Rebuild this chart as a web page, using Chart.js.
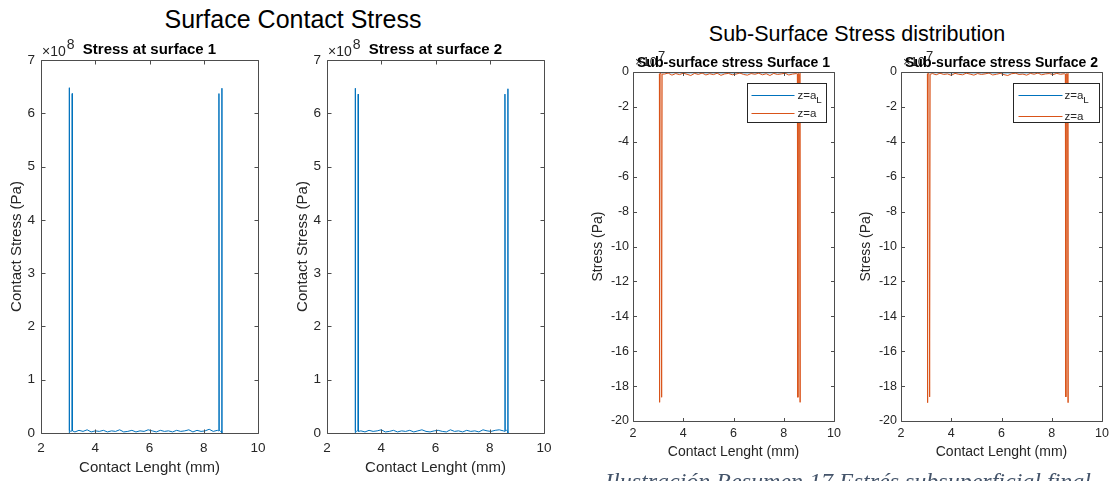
<!DOCTYPE html>
<html>
<head>
<meta charset="utf-8">
<script src="https://cdn.jsdelivr.net/npm/chart.js@4.4.0/dist/chart.umd.min.js"></script>
<style>
  body { margin: 0; width: 1115px; height: 481px; overflow: hidden; background: #fff; position: relative; font-family: 'Liberation Sans', Arial, sans-serif; }
  canvas { position: absolute; top: 0; }
  .t { position: absolute; line-height: 1; white-space: nowrap; color: #000; transform: translateX(-50%); }
  #caption { position: absolute; left: 605px; top: 469px; line-height: 1; white-space: nowrap; font-family: 'Liberation Serif', 'DejaVu Serif', serif; font-style: italic; font-size: 24px; color: #44546A; }
</style>
</head>
<body>
<div class="t" style="left:293px; top:7px; font-size:25px;">Surface Contact Stress</div>
<div class="t" style="left:857px; top:24px; font-size:21.5px;">Sub-Surface Stress distribution</div>
<canvas id="c1" width="290" height="481" style="left:0px"></canvas>
<canvas id="c2" width="288" height="481" style="left:286px"></canvas>
<canvas id="c3" width="265" height="470" style="left:581px"></canvas>
<canvas id="c4" width="266" height="470" style="left:849px"></canvas>
<div id="caption">Ilustración Resumen 17 Estrés subsuperficial final</div>
<script>
// contact length (mm) for the surface stress curves
const contactLength = [3.04, 3.04, 3.05, 3.10, 3.14, 3.15, 3.16,
  3.25, 3.40, 3.55, 3.70, 3.85, 4.00, 4.15, 4.30, 4.45, 4.60, 4.75, 4.90,
  5.05, 5.20, 5.35, 5.50, 5.65, 5.80, 5.95, 6.10, 6.25, 6.40, 6.55, 6.70,
  6.85, 7.00, 7.15, 7.30, 7.45, 7.60, 7.75, 7.90, 8.05, 8.20, 8.35, 8.50,
  8.55, 8.56, 8.57, 8.62, 8.66, 8.67, 8.67]

// contact stress (Pa)
const stressSurface1 = [0, 6.48e8, 5e6, 3e6, 4e6, 6.37e8, 4e6,
  2e6, 5e6, 3e6, 6e6, 2e6, 4e6, 3e6, 5e6, 2e6, 4e6, 3e6, 6e6,
  2e6, 3e6, 5e6, 2e6, 4e6, 3e6, 6e6, 4e6, 2e6, 5e6, 3e6, 4e6,
  2e6, 5e6, 3e6, 4e6, 6e6, 2e6, 5e6, 3e6, 4e6, 7e6, 3e6, 5e6,
  4e6, 6.37e8, 5e6, 3e6, 4e6, 6.47e8, 0]

const stressSurface2 = [0, 6.47e8, 4e6, 3e6, 5e6, 6.36e8, 3e6,
  4e6, 2e6, 5e6, 3e6, 4e6, 6e6, 2e6, 3e6, 5e6, 2e6, 4e6, 3e6,
  5e6, 2e6, 4e6, 6e6, 3e6, 2e6, 4e6, 5e6, 3e6, 2e6, 6e6, 3e6,
  4e6, 2e6, 5e6, 3e6, 4e6, 2e6, 6e6, 4e6, 3e6, 5e6, 6e6, 4e6,
  3e6, 6.36e8, 4e6, 5e6, 3e6, 6.46e8, 0]

// contact length (mm) for the sub-surface curves
const subLength = [3.05, 3.05, 3.07, 3.11, 3.14, 3.16,
  3.25, 3.40, 3.55, 3.70, 3.85, 4.00, 4.15, 4.30, 4.45, 4.60, 4.75, 4.90,
  5.05, 5.20, 5.35, 5.50, 5.65, 5.80, 5.95, 6.10, 6.25, 6.40, 6.55, 6.70,
  6.85, 7.00, 7.15, 7.30, 7.45, 7.60, 7.75, 7.90, 8.05, 8.20, 8.35, 8.50,
  8.54, 8.56, 8.58, 8.63, 8.65, 8.65]

// sub-surface stress at z=a (Pa)
const stressZa1 = [-1e6, -18.93e7, -1.0e6, -0.8e6, -18.64e7, -1.2e6,
  -1.2e6, -0.6e6, -1.8e6, -0.9e6, -1.5e6, -0.7e6, -1.3e6, -2.0e6, -0.8e6, -1.4e6, -0.6e6, -1.7e6,
  -1.0e6, -1.5e6, -0.7e6, -1.9e6, -1.1e6, -0.8e6, -1.6e6, -1.2e6, -0.6e6, -1.4e6, -1.8e6, -0.9e6,
  -1.3e6, -0.7e6, -1.6e6, -1.0e6, -2.0e6, -0.8e6, -1.4e6, -1.1e6, -0.7e6, -1.7e6, -1.2e6, -0.9e6,
  -1.1e6, -18.64e7, -0.9e6, -1.3e6, -18.93e7, -0.5e6]

const stressZa2 = [-1e6, -18.95e7, -1.1e6, -0.9e6, -18.62e7, -1.3e6,
  -0.9e6, -1.6e6, -0.7e6, -1.4e6, -1.1e6, -1.9e6, -0.8e6, -1.3e6, -1.6e6, -0.7e6, -1.2e6, -1.8e6,
  -0.9e6, -1.4e6, -1.1e6, -0.6e6, -1.7e6, -1.3e6, -0.8e6, -1.5e6, -2.0e6, -1.0e6, -0.7e6, -1.4e6,
  -1.2e6, -1.8e6, -0.8e6, -1.3e6, -0.6e6, -1.6e6, -1.1e6, -0.9e6, -1.5e6, -0.8e6, -1.3e6, -1.0e6,
  -1.2e6, -18.62e7, -1.0e6, -1.2e6, -18.95e7, -0.5e6]

// sub-surface stress at z=a_L (Pa), hidden under the z=a curve
const zaLLength = [3.05, 5.85, 8.65]
const stressZaL1 = [-0.4e6, -0.5e6, -0.4e6]
const stressZaL2 = [-0.4e6, -0.5e6, -0.4e6]

const xTicks = [2, 4, 6, 8, 10]
const surfaceTicks = [0, 1e8, 2e8, 3e8, 4e8, 5e8, 6e8, 7e8]
const subTicks = [-20e7, -18e7, -16e7, -14e7, -12e7, -10e7, -8e7, -6e7, -4e7, -2e7, 0]
const seriesLabels = ['z=a_L', 'z=a']

const blue = '#0072BD', orange = '#D95319', ink = '#262626'
const fam = "'Liberation Sans', Arial, Helvetica, sans-serif"
Chart.defaults.font.family = fam
Chart.defaults.color = ink

// MATLAB style box, inward ticks, exponent, title and legend
const matlabAxes = {
  id: 'matlabAxes',
  afterDraw(chart, args, o) {
    const { ctx, chartArea: a, scales: { x, y } } = chart
    const L = Math.round(a.left) + 0.5, R = Math.round(a.right) + 0.5
    const T = Math.round(a.top) + 0.5, B = Math.round(a.bottom) + 0.5
    ctx.save()
    ctx.strokeStyle = '#4d4d4d'
    ctx.lineWidth = 1
    ctx.beginPath()
    ctx.rect(L, T, R - L, B - T)
    x.ticks.forEach(t => {
      const p = Math.round(x.getPixelForValue(t.value)) + 0.5
      ctx.moveTo(p, B); ctx.lineTo(p, B - o.tick)
      ctx.moveTo(p, T); ctx.lineTo(p, T + o.tick)
    })
    y.ticks.forEach(t => {
      const p = Math.round(y.getPixelForValue(t.value)) + 0.5
      ctx.moveTo(L, p); ctx.lineTo(L + o.tick, p)
      ctx.moveTo(R, p); ctx.lineTo(R - o.tick, p)
    })
    ctx.stroke()

    ctx.fillStyle = ink
    ctx.textAlign = 'left'
    ctx.textBaseline = 'alphabetic'
    ctx.font = o.expSize + 'px ' + fam
    ctx.fillText('×10', a.left + o.expDx, a.top - o.expDy)
    const w = ctx.measureText('×10').width
    ctx.fillText(o.exp, a.left + o.expDx + w + 1, a.top - o.expDy - o.expRise)

    ctx.fillStyle = '#000'
    ctx.textAlign = 'center'
    ctx.font = 'bold ' + o.titleSize + 'px ' + fam
    ctx.fillText(o.title, (a.left + a.right) / 2, a.top - o.titleGap)

    if (o.legend) {
      const g = o.legend
      const bx = Math.round(a.left + g.dx) + 0.5, by = Math.round(a.top + g.dy) + 0.5
      ctx.fillStyle = '#fff'
      ctx.fillRect(bx, by, g.w, g.h)
      ctx.strokeStyle = ink
      ctx.strokeRect(bx, by, g.w, g.h)
      chart.data.datasets.forEach((ds, i) => {
        const ly = Math.round(by + g.rows[i]) + 0.5
        ctx.strokeStyle = ds.borderColor
        ctx.beginPath(); ctx.moveTo(bx + g.lx0, ly); ctx.lineTo(bx + g.lx1, ly); ctx.stroke()
        const [main, sub] = ds.label.split('_')
        ctx.fillStyle = ink
        ctx.textAlign = 'left'
        ctx.textBaseline = 'middle'
        ctx.font = g.size + 'px ' + fam
        ctx.fillText(main, bx + g.tx, ly)
        if (sub) {
          const mw = ctx.measureText(main).width
          ctx.font = (g.size * 0.85) + 'px ' + fam
          ctx.fillText(sub, bx + g.tx + mw, ly + 5)
        }
      })
    }
    ctx.restore()
  }
}

function pts(xs, ys) { return xs.map((x, i) => ({ x: x, y: ys[i] })) }

function panel(id, o) {
  new Chart(document.getElementById(id), {
    type: 'scatter',
    data: {
      datasets: o.series.map(s => ({
        label: s.label, data: pts(s.x, s.y), showLine: true,
        borderColor: s.color, borderWidth: 1, pointRadius: 0, order: s.order
      }))
    },
    options: {
      responsive: false,
      animation: false,
      events: [],
      layout: { padding: { top: o.top, right: o.right, left: 0, bottom: 0 } },
      plugins: {
        legend: { display: false },
        tooltip: { enabled: false },
        matlabAxes: o.deco
      },
      scales: {
        x: {
          type: 'linear', min: 2, max: 10,
          afterBuildTicks: s => { s.ticks = xTicks.map(v => ({ value: v })) },
          afterFit: s => { s.height = o.xH },
          ticks: { font: { size: o.tickSize }, padding: o.xPad, maxRotation: 0, autoSkip: false },
          grid: { display: false, drawTicks: false },
          border: { display: false },
          title: { display: true, text: 'Contact Lenght (mm)', font: { size: o.labelSize }, padding: { top: 0, bottom: o.xTitlePad } }
        },
        y: {
          type: 'linear', min: o.yTicks[0], max: o.yTicks[o.yTicks.length - 1],
          afterBuildTicks: s => { s.ticks = o.yTicks.map(v => ({ value: v })) },
          afterFit: s => { s.width = o.yW },
          ticks: { font: { size: o.tickSize }, padding: o.yPad, autoSkip: false, callback: v => String(Math.round(v / o.yDiv)) },
          grid: { display: false, drawTicks: false },
          border: { display: false },
          title: { display: true, text: o.yLabel, font: { size: o.labelSize }, padding: { top: o.yTitlePad, bottom: 0 } }
        }
      }
    },
    plugins: [matlabAxes]
  })
}

const leftCommon = {
  top: 60, xH: 48, yW: 41, tickSize: 13.5, labelSize: 15, xPad: 7, yPad: 6, xTitlePad: 4, yTitlePad: 8,
  yTicks: surfaceTicks, yDiv: 1e8, yLabel: 'Contact Stress (Pa)'
}
const rightCommon = {
  top: 72, xH: 49, yW: 52, tickSize: 12.5, labelSize: 14, xPad: 5, yPad: 4, xTitlePad: 9.6, yTitlePad: 8.6,
  yTicks: subTicks, yDiv: 1e7, yLabel: 'Stress (Pa)'
}

panel('c1', Object.assign({}, leftCommon, {
  right: 32,
  series: [{ label: 'surface 1', x: contactLength, y: stressSurface1, color: blue, order: 1 }],
  deco: { tick: 4, exp: '8', expSize: 14, expDx: 1, expDy: 4, expRise: 7, title: 'Stress at surface 1', titleSize: 15, titleGap: 6 }
}))
panel('c2', Object.assign({}, leftCommon, {
  right: 30,
  series: [{ label: 'surface 2', x: contactLength, y: stressSurface2, color: blue, order: 1 }],
  deco: { tick: 4, exp: '8', expSize: 14, expDx: 1, expDy: 4, expRise: 7, title: 'Stress at surface 2', titleSize: 15, titleGap: 6 }
}))
panel('c3', Object.assign({}, rightCommon, {
  right: 10,
  series: [
    { label: seriesLabels[0], x: zaLLength, y: stressZaL1, color: blue, order: 2 },
    { label: seriesLabels[1], x: subLength, y: stressZa1, color: orange, order: 1 }
  ],
  deco: { tick: 3.5, exp: '7', expSize: 13, expDx: 2, expDy: 6, expRise: 6, title: 'Sub-surface stress Surface 1', titleSize: 14, titleGap: 5,
    legend: { dx: 114, dy: 11, w: 79, h: 39, lx0: 4, lx1: 47, tx: 50, rows: [11, 29], size: 11.5 } }
}))
panel('c4', Object.assign({}, rightCommon, {
  right: 13,
  series: [
    { label: seriesLabels[0], x: zaLLength, y: stressZaL2, color: blue, order: 2 },
    { label: seriesLabels[1], x: subLength, y: stressZa2, color: orange, order: 1 }
  ],
  deco: { tick: 3.5, exp: '7', expSize: 13, expDx: 2, expDy: 6, expRise: 6, title: 'Sub-surface stress Surface 2', titleSize: 14, titleGap: 5,
    legend: { dx: 112, dy: 11, w: 86, h: 39, lx0: 5, lx1: 49, tx: 51, rows: [11, 32], size: 11.5 } }
}))
</script>
</body>
</html>
